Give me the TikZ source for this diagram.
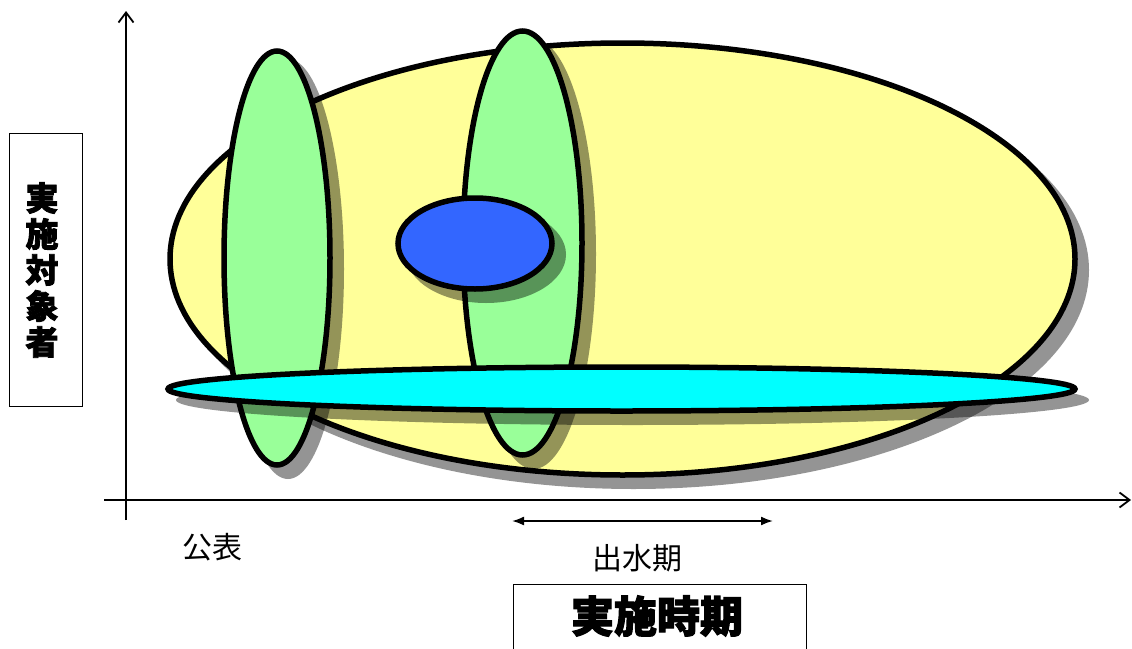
\documentclass[tikz,border=0pt]{standalone}
\usepackage{fontspec}
\usetikzlibrary{shapes.geometric,arrows.meta}
\newfontfamily\cjk{Noto Sans CJK JP}
\newfontfamily\cjkheavy{Noto Sans CJK JP}[BoldFeatures={FakeBold=2.5}]
\definecolor{cyel}{HTML}{FFFF99}
\definecolor{cgrn}{HTML}{99FF99}
\definecolor{cblu}{HTML}{3366FF}
\definecolor{ccya}{HTML}{00FFFF}
\begin{document}
\begin{tikzpicture}[x=1pt,y=-1pt,
  ell/.style={ellipse, inner sep=0pt, outer sep=0pt, draw=black, line width=5.5pt},
  shd/.style={ellipse, inner sep=0pt, outer sep=0pt, fill=black, fill opacity=0.42, draw=none},
  axisline/.style={line width=1.8pt, -{Straight Barb[length=10pt,width=15pt,line width=1.8pt]}},
  dblarrow/.style={line width=1.8pt, {Latex[length=12pt,width=9pt]}-{Latex[length=12pt,width=9pt]}},
  labelbox/.style={draw=black, line width=1.2pt, inner sep=0pt},
  plain/.style={font=\cjk\fontsize{30}{30}\selectfont},
  heavy/.style={font=\cjkheavy\bfseries\fontsize{43}{43}\selectfont}
]
\useasboundingbox (0,0) rectangle (1132,648);
% yellow
\node[shd, minimum width=911pt, minimum height=438pt] (yellowS) at (633.5,270) {};
\node[ell, fill=cyel, minimum width=905pt, minimum height=432pt] (yellow) at (622.5,259) {};
% green 1
\node[shd, minimum width=112pt, minimum height=420pt] (green1S) at (288,269) {};
\node[ell, fill=cgrn, minimum width=106pt, minimum height=414pt] (green1) at (277,258) {};
% green 2
\node[shd, minimum width=125pt, minimum height=430pt] (green2S) at (533.5,254) {};
\node[ell, fill=cgrn, minimum width=119pt, minimum height=424pt] (green2) at (522.5,243) {};
% blue
\node[shd, minimum width=160pt, minimum height=97pt] (blueS) at (486,254.5) {};
\node[ell, fill=cblu, minimum width=154pt, minimum height=91pt] (blue) at (475,243.5) {};
% cyan
\node[shd, minimum width=913pt, minimum height=50pt] (cyanS) at (632.5,400) {};
\node[ell, fill=ccya, minimum width=907pt, minimum height=44pt] (cyan) at (621.5,389) {};
% axes
\coordinate (ybot) at (126,520);
\coordinate (ytop) at (126,11);
\coordinate (xleft) at (104,500);
\coordinate (xright) at (1131,500);
\draw[axisline] (ybot) -- (ytop);
\draw[axisline] (xleft) -- (xright);
% flood period arrow
\coordinate (fa) at (512,521);
\coordinate (fb) at (773,521);
\draw[dblarrow] (fa) -- (fb);
% labels
\node[plain] (pub) at (212,547) {公表};
\node[plain] (flood) at (637,558) {出水期};
\node[labelbox, minimum width=293pt, minimum height=110pt, anchor=north west] (periodbox) at (512.5,583.5) {};
\node[heavy] (period) at (657,616) {実施時期};
\node[labelbox, minimum width=73pt, minimum height=273pt] (targetbox) at (46,270) {};
\node[font=\cjkheavy\bfseries\fontsize{33}{36}\selectfont, align=center] (target) at (42,270) {実\\施\\対\\象\\者};
\end{tikzpicture}
\end{document}
